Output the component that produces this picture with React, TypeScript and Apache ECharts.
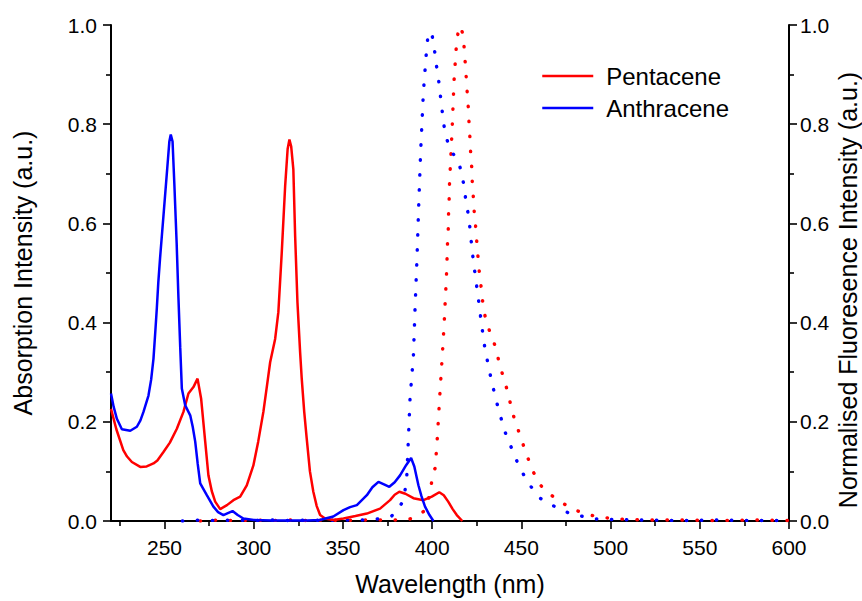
import React, { useEffect, useRef } from "react";
import * as echarts from "echarts";

const majorWavelengthTicks = [250, 300, 350, 400, 450, 500, 550, 600];
const minorWavelengthTicks = [225, 275, 325, 375, 425, 475, 525, 575];

const legendNames = ["Pentacene", "Anthracene"];

// Absorption spectra [wavelength nm, intensity a.u.]
const pentaceneAbsorption = [
  [220, 0.226], [223, 0.185], [226.9, 0.143], [229, 0.13], [231.7, 0.119], [236.4, 0.109],
  [240, 0.11], [243.8, 0.116], [246, 0.122], [249.4, 0.139], [253, 0.158], [256.9, 0.186],
  [260.6, 0.22], [263.4, 0.257], [266.2, 0.27], [268.5, 0.287], [270.5, 0.247], [272.8, 0.16],
  [274.6, 0.092], [276.5, 0.06], [278.4, 0.039], [281.2, 0.024], [285, 0.032], [288.6, 0.042],
  [292.4, 0.049], [296.1, 0.072], [299.8, 0.112], [302.5, 0.16], [305.4, 0.22], [307.5, 0.275],
  [309.2, 0.32], [312, 0.367], [313.8, 0.421], [315.7, 0.541], [317.6, 0.675], [319, 0.75],
  [320, 0.769], [321, 0.755], [322.2, 0.709], [323.2, 0.575], [324.5, 0.441], [326, 0.34],
  [326.9, 0.287], [328.3, 0.22], [329.7, 0.166], [331.5, 0.1], [333.4, 0.059], [335.3, 0.03],
  [337.2, 0.012], [340, 0.005], [344.6, 0.002], [350.3, 0.005], [357, 0.01], [363.4, 0.015],
  [370.8, 0.025], [376.4, 0.042], [379, 0.053], [381.6, 0.059], [385, 0.055], [389.5, 0.046],
  [395.1, 0.042], [399.8, 0.049], [404, 0.058], [406.5, 0.052], [409, 0.039], [411.5, 0.024],
  [413.8, 0.012], [416.9, 0],
];

const anthraceneAbsorption = [
  [220, 0.257], [221.5, 0.23], [223.3, 0.206], [226.1, 0.185], [230.8, 0.182], [234.5, 0.19],
  [236.5, 0.203], [238.2, 0.22], [241, 0.253], [242.5, 0.285], [243.8, 0.327], [244.8, 0.38],
  [245.7, 0.43], [246.5, 0.48], [247.5, 0.53], [249.4, 0.615], [251.5, 0.71], [252.7, 0.765],
  [253.5, 0.779], [254.5, 0.765], [255.5, 0.68], [256.8, 0.56], [257.8, 0.45], [258.8, 0.35],
  [259.7, 0.267], [261.6, 0.233], [264.4, 0.213], [265.8, 0.19], [267.2, 0.16], [268.6, 0.115],
  [270, 0.076], [273.7, 0.052], [277.4, 0.029], [280, 0.018], [283, 0.012], [285.5, 0.016],
  [288.1, 0.02], [291, 0.012], [294.2, 0.005], [300, 0.002], [310, 0.001], [320, 0.001],
  [330, 0.001], [337, 0.002], [344.6, 0.009], [350.3, 0.022], [354, 0.028], [357.8, 0.032],
  [363.4, 0.052], [366.5, 0.068], [369.9, 0.079], [373, 0.074], [376, 0.069], [379, 0.078],
  [382, 0.092], [385.5, 0.113], [388.2, 0.127], [390, 0.11], [392.3, 0.072], [394, 0.05],
  [396, 0.029], [398.5, 0.012], [400.7, 0],
];

// Normalised fluorescence spectra [wavelength nm, intensity a.u.]
const pentaceneFluorescence = [
  [270, 0], [280, 0.002], [290, 0.001], [300, 0.002], [310, 0.001], [320, 0.002], [330, 0.001],
  [340, 0.002], [350, 0.001], [360, 0.002], [370, 0.002], [380, 0.002], [386.7, 0.003],
  [391, 0.008], [395.1, 0.019], [398, 0.045], [399.8, 0.08], [401.6, 0.106], [402.6, 0.15],
  [404.4, 0.26], [405.9, 0.347], [406.8, 0.403], [407.2, 0.434], [407.6, 0.462], [408, 0.493],
  [408.3, 0.522], [408.5, 0.553], [409, 0.581], [409.1, 0.612], [409.5, 0.642], [409.6, 0.67],
  [410, 0.7], [410.4, 0.73], [410.8, 0.761], [411.2, 0.79], [411.5, 0.82], [411.9, 0.851],
  [412.1, 0.88], [412.7, 0.91], [413.2, 0.94], [413.8, 0.968], [415.1, 0.998], [416.5, 0.99],
  [417.5, 0.978], [418, 0.95], [418.6, 0.921], [419.2, 0.889], [419.7, 0.861], [420.3, 0.831],
  [420.7, 0.8], [421.2, 0.771], [421.6, 0.741], [422.2, 0.712], [422.5, 0.682], [423.1, 0.652],
  [423.6, 0.622], [424.4, 0.592], [425, 0.563], [425.7, 0.532], [426.4, 0.503], [427.4, 0.473],
  [428.3, 0.443], [429.6, 0.414], [432.4, 0.38], [435.2, 0.354], [438, 0.313], [441.8, 0.267],
  [445.5, 0.213], [449.2, 0.173], [453, 0.133], [456.7, 0.099], [460, 0.075], [464.2, 0.059],
  [471.6, 0.039], [480, 0.022], [488.4, 0.012], [495.9, 0.007], [504.3, 0.004], [520, 0.002],
  [540, 0.002], [560, 0.001], [580, 0.002], [600, 0.001],
];

const anthraceneFluorescence = [
  [260, 0], [270, 0.002], [280, 0.001], [290, 0.002], [300, 0.001], [310, 0.002], [320, 0.001],
  [330, 0.002], [340, 0.001], [350, 0.002], [360, 0.002], [365, 0.003], [369, 0.004],
  [373, 0.006], [377.3, 0.01], [380, 0.02], [383, 0.036], [384.8, 0.062], [385.8, 0.092],
  [386.5, 0.15], [387.6, 0.247], [389.5, 0.334], [390.4, 0.427], [391.5, 0.53], [392.5, 0.64],
  [393.6, 0.749], [395.1, 0.866], [397, 0.956], [397.9, 0.985], [399.8, 0.983], [401.2, 0.953],
  [402.2, 0.923], [403.5, 0.893], [404.4, 0.864], [405.4, 0.834], [406.3, 0.804], [407.8, 0.774],
  [410.6, 0.745], [414.1, 0.73], [416.6, 0.702], [417.9, 0.673], [419, 0.643], [420.5, 0.613],
  [421.4, 0.583], [422.2, 0.553], [423.1, 0.524], [424.2, 0.494], [425.3, 0.464], [426.4, 0.434],
  [427.4, 0.404], [429.6, 0.347], [433.4, 0.28], [437.1, 0.226], [440.8, 0.18], [444.6, 0.146],
  [449.2, 0.106], [454.8, 0.072], [460.4, 0.046], [468.8, 0.029], [477.2, 0.015], [484.7, 0.009],
  [492, 0.004], [500, 0.003], [520, 0.002], [540, 0.001], [560, 0.002], [580, 0.001], [600, 0.001],
];

const RED = "#ff0000";
const BLUE = "#0000ff";
const FONT = "'Liberation Sans', Arial, sans-serif";

export default function App() {
  const ref = useRef<HTMLDivElement>(null);

  useEffect(() => {
    if (!ref.current) return;
    const chart = echarts.init(ref.current, null, { renderer: "svg" });

    const axisLine = { show: true, onZero: false, lineStyle: { color: "#000", width: 2 } };
    const tickStyle = { color: "#000", width: 1.6 };
    const labelStyle = { fontSize: 21, color: "#000", fontFamily: FONT };
    const yCommon = {
      type: "value",
      min: 0,
      max: 1,
      interval: 0.2,
      axisLine,
      axisTick: { show: true, length: 8, lineStyle: tickStyle },
      minorTick: { show: true, splitNumber: 2, length: 5, lineStyle: tickStyle },
      splitLine: { show: false },
      minorSplitLine: { show: false },
    };

    const dotted = (color: string) => ({
      color,
      width: 3.4,
      type: [0.4, 14.6],
      cap: "round",
    });

    chart.setOption({
      animation: false,
      backgroundColor: "#fff",
      textStyle: { fontFamily: FONT },
      grid: { left: 111, right: 73, top: 25, bottom: 78, containLabel: false },
      legend: {
        data: legendNames,
        orient: "vertical",
        left: 541,
        top: 64,
        padding: 0,
        itemWidth: 51,
        itemHeight: 14,
        itemGap: 8,
        itemStyle: { opacity: 0 },
        lineStyle: { width: 2.5 },
        textStyle: { fontSize: 24, color: "#000", fontFamily: FONT, padding: [0, 0, 0, 8] },
      },
      graphic: [
        {
          type: "text",
          x: 848,
          y: 290,
          rotation: Math.PI / 2,
          style: {
            text: "Normalised Fluoresence Intensity (a.u.)",
            fill: "#000",
            font: `25px ${FONT}`,
            align: "center",
            verticalAlign: "middle",
          },
        },
      ],
      xAxis: [
        {
          type: "value",
          min: 220,
          max: 600,
          position: "bottom",
          name: "Wavelength (nm)",
          nameLocation: "middle",
          nameGap: 50,
          nameTextStyle: { fontSize: 25, color: "#000", fontFamily: FONT },
          axisLine,
          axisTick: { show: true, length: 8, customValues: majorWavelengthTicks, lineStyle: tickStyle },
          axisLabel: { ...labelStyle, customValues: majorWavelengthTicks, margin: 16 },
          splitLine: { show: false },
        },
        {
          type: "value",
          min: 220,
          max: 600,
          position: "bottom",
          axisLine: { show: false },
          axisTick: { show: true, length: 5, customValues: minorWavelengthTicks, lineStyle: tickStyle },
          axisLabel: { show: false },
          splitLine: { show: false },
        },
      ],
      yAxis: [
        {
          ...yCommon,
          position: "left",
          name: "Absorption Intensity (a.u.)",
          nameLocation: "middle",
          nameRotate: 90,
          nameGap: 76,
          nameTextStyle: { fontSize: 25, color: "#000", fontFamily: FONT },
          axisLabel: { ...labelStyle, margin: 14, formatter: (v: number) => v.toFixed(1) },
        },
        {
          ...yCommon,
          position: "right",
          axisLabel: { ...labelStyle, margin: 11, formatter: (v: number) => v.toFixed(1) },
        },
      ],
      series: [
        {
          name: "Pentacene fluorescence",
          type: "line",
          xAxisIndex: 0,
          yAxisIndex: 1,
          data: pentaceneFluorescence,
          symbol: "none",
          lineStyle: dotted(RED),
          itemStyle: { color: RED },
        },
        {
          name: "Anthracene fluorescence",
          type: "line",
          xAxisIndex: 0,
          yAxisIndex: 1,
          data: anthraceneFluorescence,
          symbol: "none",
          lineStyle: dotted(BLUE),
          itemStyle: { color: BLUE },
        },
        {
          name: "Pentacene",
          type: "line",
          xAxisIndex: 0,
          yAxisIndex: 0,
          data: pentaceneAbsorption,
          symbol: "none",
          lineStyle: { color: RED, width: 2.5 },
          itemStyle: { color: RED },
        },
        {
          name: "Anthracene",
          type: "line",
          xAxisIndex: 0,
          yAxisIndex: 0,
          data: anthraceneAbsorption,
          symbol: "none",
          lineStyle: { color: BLUE, width: 2.5 },
          itemStyle: { color: BLUE },
        },
      ],
    });

    return () => chart.dispose();
  }, []);

  return (
    <div
      ref={ref}
      style={{ position: "fixed", left: 0, top: 0, width: 862, height: 601, background: "#fff" }}
    />
  );
}
